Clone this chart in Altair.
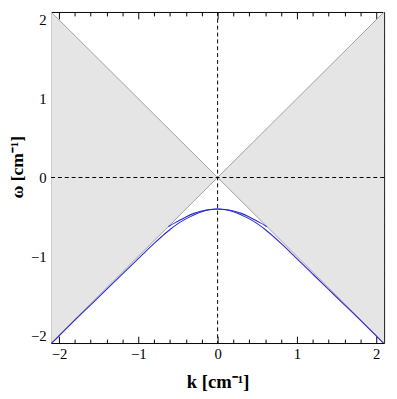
import altair as alt
import pandas as pd

# ---- data ----
k_lower = [-2.1, -2.0, -1.8, -1.6, -1.4, -1.2, -1.0, -0.9, -0.8, -0.7, -0.6, -0.5, -0.4, -0.3, -0.2, -0.1,
           0.0, 0.1, 0.2, 0.3, 0.4, 0.5, 0.6, 0.7, 0.8, 0.9, 1.0, 1.2, 1.4, 1.6, 1.8, 2.0, 2.1]
w_lower = [-2.11, -2.01, -1.81, -1.615, -1.42, -1.225, -1.03, -0.93, -0.835, -0.745, -0.66, -0.585, -0.525, -0.475, -0.435, -0.41,
           -0.40, -0.41, -0.435, -0.475, -0.525, -0.585, -0.66, -0.745, -0.835, -0.93, -1.03, -1.225, -1.42, -1.615, -1.81, -2.01, -2.11]

k_upper = [-0.62, -0.6, -0.5, -0.4, -0.3, -0.2, -0.1, 0.0, 0.1, 0.2, 0.3, 0.4, 0.5, 0.6, 0.62]
w_upper = [-0.625, -0.61, -0.555, -0.50, -0.455, -0.425, -0.405, -0.40, -0.405, -0.425, -0.455, -0.50, -0.555, -0.61, -0.625]

cone_k = [-2.1, 0.0, 2.1]
minor_ticks = [-2.0, -1.8, -1.6, -1.4, -1.2, -1.0, -0.8, -0.6, -0.4, -0.2, 0.0,
               0.2, 0.4, 0.6, 0.8, 1.0, 1.2, 1.4, 1.6, 1.8, 2.0]
major_ticks = [-2, -1, 0, 1, 2]
dom = [-2.1, 2.1]

W, H = 340, 338
FONT = "Liberation Serif"

# wedges |w| < |k|
wedge = pd.DataFrame({
    "k": [cone_k[0], cone_k[1], cone_k[1], cone_k[2]],
    "lo": [cone_k[0], cone_k[1], -cone_k[1], -cone_k[2]],
    "hi": [-cone_k[0], -cone_k[1], cone_k[1], cone_k[2]],
    "side": ["L", "L", "R", "R"],
})
cone = pd.DataFrame({
    "k": cone_k + cone_k,
    "w": cone_k + [-v for v in cone_k],
    "line": ["a"] * 3 + ["b"] * 3,
})
curves = pd.DataFrame({
    "k": k_lower + k_upper,
    "w": w_lower + w_upper,
    "branch": ["lower"] * len(k_lower) + ["upper"] * len(k_upper),
})
zero = pd.DataFrame({"z": [0.0]})

sc = alt.Scale(domain=dom, nice=False, zero=False)
tick_size = {"condition": {"test": "abs(datum.value - round(datum.value)) < 0.001", "value": 7}, "value": 4}


def tick_axis(orient, offset):
    return alt.Axis(orient=orient, offset=offset, values=minor_ticks, tickSize=tick_size,
                    labels=False, domain=False, grid=False, title=None, tickColor="black", tickWidth=1)


x_label_axis = alt.Axis(orient="bottom", values=major_ticks, ticks=False, domain=False, grid=False,
                        labelFont=FONT, labelFontSize=15, labelColor="black", labelPadding=4,
                        title="k [cm⁻¹]", titleFont=FONT, titleFontSize=19, titleFontWeight="bold",
                        titleColor="black", titlePadding=11)
y_label_axis = alt.Axis(orient="left", values=major_ticks, ticks=False, domain=False, grid=False,
                        labelFont=FONT, labelFontSize=15, labelColor="black", labelPadding=5,
                        title="ω [cm⁻¹]", titleFont=FONT, titleFontSize=18, titleFontWeight="bold",
                        titleColor="black", titlePadding=4, titleY=158)

area = alt.Chart(wedge).mark_area(color="#e5e5e5", opacity=1).encode(
    x=alt.X("k:Q", scale=sc, axis=x_label_axis),
    y=alt.Y("lo:Q", scale=sc, axis=y_label_axis),
    y2="hi:Q",
    detail="side:N",
)

cone_lines = alt.Chart(cone).mark_line(color="#a0a0a0", strokeWidth=1, clip=True).encode(
    x=alt.X("k:Q", scale=sc, axis=tick_axis("top", -H)),
    y=alt.Y("w:Q", scale=sc, axis=tick_axis("right", -W)),
    detail="line:N",
)

vrule = alt.Chart(zero).mark_rule(color="black", strokeDash=[4, 3], strokeWidth=1).encode(
    x=alt.X("z:Q", scale=sc, axis=None)
)
hrule = alt.Chart(zero).mark_rule(color="black", strokeDash=[4, 3], strokeWidth=1).encode(
    y=alt.Y("z:Q", scale=sc, axis=None)
)

curve_lines = alt.Chart(curves).mark_line(color="#2b2bd6", strokeWidth=1.1, clip=True,
                                          interpolate="monotone").encode(
    x=alt.X("k:Q", scale=sc, axis=tick_axis("bottom", -H)),
    y=alt.Y("w:Q", scale=sc, axis=tick_axis("left", -W)),
    detail="branch:N",
)

chart = alt.layer(area, cone_lines, vrule, hrule, curve_lines).resolve_axis(
    x="independent", y="independent"
).properties(
    width=W, height=H,
    autosize=alt.AutoSizeParams(type="none"),
    padding={"left": 44, "top": 0, "right": 5, "bottom": 50},
).configure_view(stroke="black", strokeWidth=1)

chart.save("out.html", embed_options={"renderer": "svg", "actions": False})
